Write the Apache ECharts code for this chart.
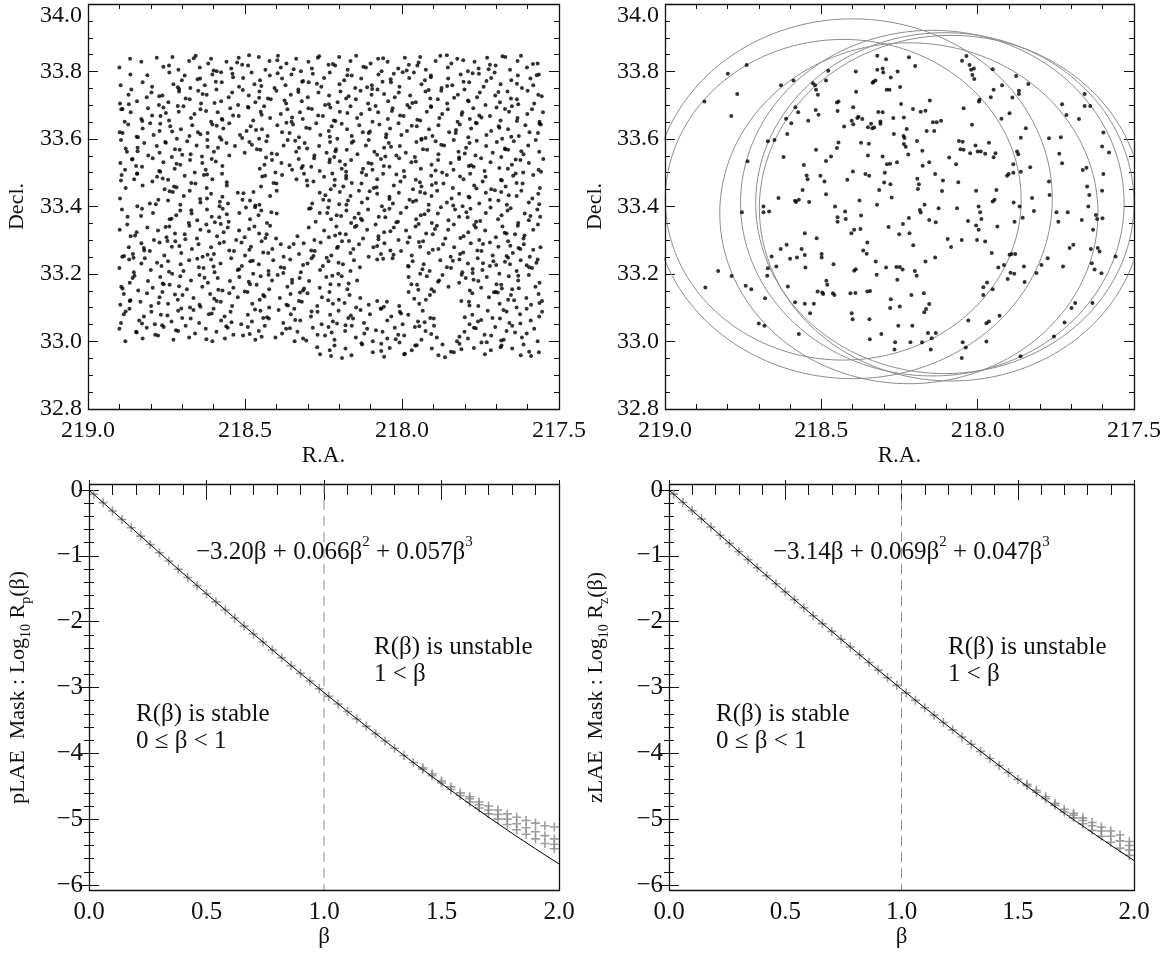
<!DOCTYPE html>
<html><head><meta charset="utf-8">
<script src="https://cdn.jsdelivr.net/npm/echarts@6/dist/echarts.min.js"></script>
<style>html,body{margin:0;padding:0;background:#fff}#c{width:1169px;height:953px}</style>
</head><body><div id="c"></div><script>
// ---- Top-left: full field sources [R.A., Decl.] (read strip by strip, top to bottom) ----
const fieldPtsA = [
[218.900,33.812],[218.866,33.838],[218.830,33.829],[218.781,33.841],[218.742,33.818],[218.731,33.843],[218.712,33.805],[218.678,33.831],[218.657,33.847],[218.644,33.812],[218.617,33.824],[218.608,33.838],[218.590,33.801],[218.559,33.829],[218.544,33.809],[218.520,33.841],[218.509,33.820],[218.490,33.818],[218.456,33.843],[218.435,33.805],[218.422,33.831],[218.395,33.847],[218.386,33.812],[218.368,33.824],[218.337,33.838],[218.322,33.801],[218.298,33.829],[218.287,33.809],[218.268,33.841],[218.234,33.820],[218.213,33.818],[218.200,33.843],[218.173,33.805],[218.164,33.831],[218.146,33.847],[218.115,33.812],[218.100,33.824],[218.076,33.838],[218.065,33.801],[218.046,33.829],[218.012,33.809],[217.991,33.841],[217.978,33.820],[217.951,33.818],[217.942,33.843],[217.924,33.805],[217.893,33.831],[217.878,33.847],[217.854,33.812],[217.843,33.824],[217.824,33.838],[217.790,33.801],[217.769,33.829],[217.756,33.809],[217.729,33.841],[217.720,33.820],[217.702,33.818],[217.671,33.843],[217.656,33.805],[217.632,33.831],[217.621,33.847],[217.602,33.812],[217.568,33.824],
[218.896,33.759],[218.865,33.791],[218.826,33.768],[218.796,33.755],[218.741,33.797],[218.728,33.762],[218.701,33.774],[218.692,33.788],[218.674,33.751],[218.643,33.779],[218.628,33.759],[218.604,33.791],[218.593,33.770],[218.574,33.768],[218.540,33.793],[218.519,33.755],[218.506,33.781],[218.479,33.797],[218.470,33.762],[218.452,33.774],[218.421,33.788],[218.406,33.751],[218.382,33.779],[218.371,33.759],[218.352,33.791],[218.318,33.770],[218.297,33.768],[218.284,33.793],[218.257,33.755],[218.248,33.781],[218.230,33.797],[218.199,33.762],[218.184,33.774],[218.160,33.788],[218.149,33.751],[218.130,33.779],[218.096,33.759],[218.075,33.791],[218.062,33.770],[218.035,33.768],[218.026,33.793],[218.008,33.755],[217.977,33.781],[217.962,33.797],[217.938,33.762],[217.927,33.774],[217.908,33.788],[217.874,33.751],[217.853,33.779],[217.840,33.759],[217.813,33.791],[217.804,33.770],[217.786,33.768],[217.755,33.793],[217.740,33.755],[217.716,33.781],[217.705,33.797],[217.686,33.762],[217.652,33.774],[217.631,33.788],[217.618,33.751],[217.591,33.779],[217.582,33.759],[217.564,33.791],
[218.898,33.705],[218.871,33.731],[218.862,33.747],[218.844,33.712],[218.813,33.724],[218.798,33.738],[218.774,33.701],[218.763,33.729],[218.744,33.709],[218.710,33.741],[218.689,33.720],[218.676,33.718],[218.649,33.743],[218.640,33.705],[218.622,33.731],[218.591,33.747],[218.576,33.712],[218.552,33.724],[218.541,33.738],[218.522,33.701],[218.488,33.729],[218.467,33.709],[218.454,33.741],[218.427,33.720],[218.418,33.718],[218.400,33.743],[218.369,33.705],[218.354,33.731],[218.330,33.747],[218.319,33.712],[218.300,33.724],[218.266,33.738],[218.245,33.701],[218.232,33.729],[218.205,33.709],[218.196,33.741],[218.178,33.720],[218.147,33.718],[218.132,33.743],[218.108,33.705],[218.097,33.731],[218.078,33.747],[218.044,33.712],[218.023,33.724],[218.010,33.738],[217.983,33.701],[217.974,33.729],[217.956,33.709],[217.925,33.741],[217.910,33.720],[217.886,33.718],[217.875,33.743],[217.856,33.705],[217.822,33.731],[217.801,33.747],[217.788,33.712],[217.761,33.724],[217.752,33.738],[217.734,33.701],[217.703,33.729],[217.688,33.709],[217.664,33.741],[217.653,33.720],[217.634,33.718],[217.600,33.743],[217.579,33.705],[217.566,33.731],
[218.894,33.688],[218.883,33.651],[218.864,33.679],[218.830,33.659],[218.809,33.691],[218.796,33.670],[218.769,33.668],[218.760,33.693],[218.742,33.655],[218.711,33.681],[218.696,33.697],[218.672,33.662],[218.661,33.674],[218.642,33.688],[218.608,33.651],[218.587,33.679],[218.574,33.659],[218.547,33.691],[218.538,33.670],[218.520,33.668],[218.489,33.693],[218.474,33.655],[218.450,33.681],[218.439,33.697],[218.420,33.662],[218.386,33.674],[218.365,33.688],[218.352,33.651],[218.325,33.679],[218.316,33.659],[218.298,33.691],[218.267,33.670],[218.252,33.668],[218.228,33.693],[218.217,33.655],[218.198,33.681],[218.164,33.697],[218.143,33.662],[218.130,33.674],[218.103,33.688],[218.094,33.651],[218.076,33.679],[218.045,33.659],[218.030,33.691],[218.006,33.670],[217.995,33.668],[217.976,33.693],[217.942,33.655],[217.921,33.681],[217.908,33.697],[217.881,33.662],[217.872,33.674],[217.854,33.688],[217.823,33.651],[217.808,33.679],[217.784,33.659],[217.773,33.691],[217.754,33.670],[217.720,33.668],[217.699,33.693],[217.686,33.655],[217.659,33.681],[217.650,33.697],[217.632,33.662],[217.601,33.674],[217.586,33.688],[217.562,33.651],[217.551,33.679],
[218.899,33.620],[218.890,33.618],[218.872,33.643],[218.841,33.605],[218.826,33.631],[218.802,33.647],[218.791,33.612],[218.772,33.624],[218.738,33.638],[218.717,33.601],[218.704,33.629],[218.677,33.609],[218.668,33.641],[218.650,33.620],[218.619,33.618],[218.604,33.643],[218.580,33.605],[218.569,33.631],[218.550,33.647],[218.516,33.612],[218.495,33.624],[218.482,33.638],[218.455,33.601],[218.446,33.629],[218.428,33.609],[218.397,33.641],[218.382,33.620],[218.358,33.618],[218.347,33.643],[218.328,33.605],[218.294,33.631],[218.273,33.647],[218.260,33.612],[218.233,33.624],[218.224,33.638],[218.206,33.601],[218.175,33.629],[218.160,33.609],[218.136,33.641],[218.125,33.620],[218.106,33.618],[218.072,33.643],[218.051,33.605],[218.038,33.631],[218.011,33.647],[218.002,33.612],[217.984,33.624],[217.953,33.638],[217.938,33.601],[217.914,33.629],[217.903,33.609],[217.884,33.641],[217.850,33.620],[217.829,33.618],[217.816,33.643],[217.789,33.605],[217.780,33.631],[217.762,33.647],[217.731,33.612],[217.716,33.624],[217.692,33.638],[217.681,33.601],[217.662,33.629],[217.628,33.609],[217.607,33.641],[217.594,33.620],[217.567,33.618],[217.558,33.643],
[218.895,33.597],[218.876,33.562],[218.842,33.574],[218.821,33.588],[218.808,33.551],[218.781,33.579],[218.772,33.559],[218.754,33.591],[218.723,33.570],[218.708,33.568],[218.684,33.593],[218.673,33.555],[218.654,33.581],[218.620,33.597],[218.599,33.562],[218.586,33.574],[218.559,33.588],[218.550,33.551],[218.532,33.579],[218.501,33.559],[218.486,33.591],[218.462,33.570],[218.451,33.568],[218.432,33.593],[218.398,33.555],[218.377,33.581],[218.364,33.597],[218.337,33.562],[218.328,33.574],[218.310,33.588],[218.279,33.551],[218.264,33.579],[218.240,33.559],[218.229,33.591],[218.210,33.570],[218.176,33.568],[218.155,33.593],[218.142,33.555],[218.115,33.581],[218.106,33.597],[218.088,33.562],[218.057,33.574],[218.042,33.588],[218.018,33.551],[218.007,33.579],[217.988,33.559],[217.954,33.591],[217.933,33.570],[217.920,33.568],[217.893,33.593],[217.884,33.555],[217.866,33.581],[217.835,33.597],[217.820,33.562],[217.796,33.574],[217.785,33.588],[217.766,33.551],[217.732,33.579],[217.711,33.559],[217.698,33.591],[217.671,33.570],[217.662,33.568],[217.644,33.593],[217.613,33.555],[217.598,33.581],[217.574,33.597],[217.563,33.562],
[218.897,33.529],[218.882,33.509],[218.858,33.541],[218.847,33.520],[218.828,33.518],[218.794,33.543],[218.773,33.505],[218.760,33.531],[218.733,33.547],[218.724,33.512],[218.706,33.524],[218.675,33.538],[218.660,33.501],[218.636,33.529],[218.625,33.509],[218.606,33.541],[218.572,33.520],[218.453,33.512],[218.438,33.524],[218.414,33.538],[218.403,33.501],[218.384,33.529],[218.350,33.509],[218.329,33.541],[218.316,33.520],[218.289,33.518],[218.280,33.543],[218.262,33.505],[218.231,33.531],[218.216,33.547],[218.192,33.512],[218.181,33.524],[218.162,33.538],[218.128,33.501],[218.107,33.529],[218.094,33.509],[218.067,33.541],[218.058,33.520],[218.040,33.518],[218.009,33.543],[217.994,33.505],[217.970,33.531],[217.959,33.547],[217.940,33.512],[217.906,33.524],[217.885,33.538],[217.872,33.501],[217.845,33.529],[217.836,33.509],[217.818,33.541],[217.787,33.520],[217.772,33.518],[217.748,33.543],[217.737,33.505],[217.718,33.531],[217.684,33.547],[217.663,33.512],[217.650,33.524],[217.623,33.538],[217.614,33.501],[217.596,33.529],[217.565,33.509],[217.550,33.541],
[218.893,33.493],[218.880,33.455],[218.853,33.481],[218.844,33.497],[218.826,33.462],[218.795,33.474],[218.780,33.488],[218.756,33.451],[218.745,33.479],[218.726,33.459],[218.692,33.491],[218.671,33.470],[218.658,33.468],[218.631,33.493],[218.622,33.455],[218.604,33.481],[218.573,33.497],[218.558,33.462],[218.449,33.459],[218.436,33.491],[218.409,33.470],[218.400,33.468],[218.382,33.493],[218.336,33.481],[218.312,33.497],[218.301,33.462],[218.282,33.474],[218.248,33.488],[218.227,33.451],[218.214,33.479],[218.187,33.459],[218.178,33.491],[218.160,33.470],[218.129,33.468],[218.114,33.493],[218.090,33.455],[218.079,33.481],[218.060,33.497],[218.026,33.462],[218.005,33.474],[217.992,33.488],[217.965,33.451],[217.956,33.479],[217.938,33.459],[217.907,33.491],[217.892,33.470],[217.868,33.468],[217.857,33.493],[217.838,33.455],[217.804,33.481],[217.783,33.497],[217.770,33.462],[217.743,33.474],[217.734,33.488],[217.716,33.451],[217.685,33.479],[217.670,33.459],[217.646,33.491],[217.635,33.470],[217.616,33.468],[217.582,33.493],[217.561,33.455],
[218.898,33.424],[218.843,33.401],[218.803,33.409],[218.776,33.420],[218.745,33.418],[218.730,33.443],[218.706,33.405],[218.695,33.431],[218.676,33.447],[218.642,33.412],[218.621,33.424],[218.608,33.438],[218.581,33.401],[218.572,33.429],[218.554,33.409],[218.523,33.441],[218.508,33.420],[218.484,33.418],[218.473,33.443],[218.454,33.405],[218.420,33.431],[218.399,33.447],[218.286,33.409],[218.262,33.441],[218.251,33.420],[218.232,33.418],[218.198,33.443],[218.177,33.405],[218.164,33.431],[218.137,33.447],[218.128,33.412],[218.110,33.424],[218.079,33.438],[218.064,33.401],[218.040,33.429],[218.029,33.409],[218.010,33.441],[217.976,33.420],[217.955,33.418],[217.942,33.443],[217.915,33.405],[217.906,33.431],[217.888,33.447],[217.857,33.412],[217.842,33.424],[217.818,33.438],[217.807,33.401],[217.788,33.429],[217.754,33.409],[217.733,33.441],[217.720,33.420],[217.693,33.418],[217.684,33.443],[217.666,33.405],[217.635,33.431],[217.620,33.447],[217.596,33.412],[217.585,33.424],[217.566,33.438],
[218.892,33.391],[218.874,33.370],[218.828,33.393],[218.793,33.381],[218.740,33.362],[218.719,33.374],[218.706,33.388],[218.679,33.351],[218.670,33.379],[218.652,33.359],[218.621,33.391],[218.606,33.370],[218.582,33.368],[218.571,33.393],[218.552,33.355],[218.518,33.381],[218.497,33.397],[218.484,33.362],[218.457,33.374],[218.448,33.388],[218.430,33.351],[218.399,33.379],[218.296,33.393],[218.275,33.355],[218.262,33.381],[218.235,33.397],[218.226,33.362],[218.208,33.374],[218.177,33.388],[218.162,33.351],[218.138,33.379],[218.127,33.359],[218.108,33.391],[218.074,33.370],[218.053,33.368],[218.040,33.393],[218.013,33.355],[218.004,33.381],[217.986,33.397],[217.955,33.362],[217.940,33.374],[217.916,33.388],[217.905,33.351],[217.886,33.379],[217.852,33.359],[217.831,33.391],[217.818,33.370],[217.791,33.368],[217.782,33.393],[217.764,33.355],[217.733,33.381],[217.718,33.397],[217.694,33.362],[217.683,33.374],[217.664,33.388],[217.630,33.351],[217.609,33.379],[217.596,33.359],[217.569,33.391],[217.560,33.370],
[218.899,33.331],[218.875,33.347],[218.864,33.312],[218.845,33.324],[218.811,33.338],[218.790,33.301],[218.777,33.329],[218.750,33.309],[218.741,33.341],[218.723,33.320],[218.692,33.318],[218.677,33.343],[218.653,33.305],[218.642,33.331],[218.623,33.347],[218.589,33.312],[218.568,33.324],[218.555,33.338],[218.528,33.301],[218.519,33.329],[218.501,33.309],[218.470,33.341],[218.455,33.320],[218.431,33.318],[218.420,33.343],[218.401,33.305],[218.333,33.312],[218.297,33.338],[218.279,33.301],[218.248,33.329],[218.233,33.309],[218.209,33.341],[218.198,33.320],[218.179,33.318],[218.145,33.343],[218.124,33.305],[218.111,33.331],[218.084,33.347],[218.075,33.312],[218.057,33.324],[218.026,33.338],[218.011,33.301],[217.987,33.329],[217.976,33.309],[217.957,33.341],[217.923,33.320],[217.902,33.318],[217.889,33.343],[217.862,33.305],[217.853,33.331],[217.835,33.347],[217.804,33.312],[217.789,33.324],[217.765,33.338],[217.754,33.301],[217.735,33.329],[217.701,33.309],[217.680,33.341],[217.667,33.320],[217.640,33.318],[217.631,33.343],[217.613,33.305],[217.582,33.331],[217.567,33.347],
[218.891,33.251],[218.870,33.279],[218.857,33.259],[218.830,33.291],[218.821,33.270],[218.803,33.268],[218.772,33.293],[218.757,33.255],[218.733,33.281],[218.722,33.297],[218.703,33.262],[218.669,33.274],[218.648,33.288],[218.635,33.251],[218.608,33.279],[218.599,33.259],[218.581,33.291],[218.550,33.270],[218.535,33.268],[218.511,33.293],[218.500,33.255],[218.481,33.281],[218.447,33.297],[218.426,33.262],[218.413,33.274],[218.386,33.288],[218.377,33.251],[218.359,33.279],[218.328,33.259],[218.313,33.291],[218.289,33.270],[218.278,33.268],[218.259,33.293],[218.225,33.255],[218.204,33.281],[218.191,33.297],[218.164,33.262],[218.155,33.274],[218.137,33.288],[218.106,33.251],[218.091,33.279],[218.067,33.259],[218.056,33.291],[218.037,33.270],[218.003,33.268],[217.982,33.293],[217.969,33.255],[217.942,33.281],[217.933,33.297],[217.915,33.262],[217.884,33.274],[217.869,33.288],[217.845,33.251],[217.834,33.279],[217.815,33.259],[217.781,33.291],[217.760,33.270],[217.747,33.268],[217.720,33.293],[217.711,33.255],[217.693,33.281],[217.662,33.297],[217.647,33.262],[217.623,33.274],[217.612,33.288],[217.593,33.251],[217.559,33.279],
[218.900,33.218],[218.869,33.243],[218.854,33.205],[218.830,33.231],[218.819,33.247],[218.800,33.212],[218.766,33.224],[218.745,33.238],[218.732,33.201],[218.705,33.229],[218.696,33.209],[218.678,33.241],[218.647,33.220],[218.632,33.218],[218.608,33.243],[218.597,33.205],[218.578,33.231],[218.544,33.247],[218.523,33.212],[218.510,33.224],[218.483,33.238],[218.474,33.201],[218.456,33.229],[218.425,33.209],[218.410,33.241],[218.386,33.220],[218.375,33.218],[218.356,33.243],[218.322,33.205],[218.301,33.231],[218.288,33.247],[218.261,33.212],[218.252,33.224],[218.234,33.238],[218.203,33.201],[218.188,33.229],[218.164,33.209],[218.153,33.241],[218.134,33.220],[218.079,33.243],[218.030,33.247],[217.981,33.224],[217.966,33.238],[217.942,33.201],[217.931,33.229],[217.912,33.209],[217.878,33.241],[217.857,33.220],[217.844,33.218],[217.817,33.243],[217.808,33.205],[217.790,33.231],[217.759,33.247],[217.744,33.212],[217.720,33.224],[217.709,33.238],[217.690,33.201],[217.656,33.229],[217.635,33.209],[217.622,33.241],[217.595,33.220],[217.586,33.218],[217.568,33.243],
[218.894,33.162],[218.867,33.174],[218.858,33.188],[218.840,33.151],[218.809,33.179],[218.794,33.159],[218.770,33.191],[218.759,33.170],[218.740,33.168],[218.706,33.193],[218.685,33.155],[218.672,33.181],[218.645,33.197],[218.636,33.162],[218.618,33.174],[218.587,33.188],[218.572,33.151],[218.548,33.179],[218.537,33.159],[218.518,33.191],[218.484,33.170],[218.463,33.168],[218.450,33.193],[218.423,33.155],[218.414,33.181],[218.396,33.197],[218.365,33.162],[218.350,33.174],[218.326,33.188],[218.315,33.151],[218.296,33.179],[218.262,33.159],[218.241,33.191],[218.228,33.170],[218.201,33.168],[218.192,33.193],[218.174,33.155],[218.143,33.181],[217.979,33.191],[217.970,33.170],[217.952,33.168],[217.921,33.193],[217.906,33.155],[217.882,33.181],[217.871,33.197],[217.852,33.162],[217.818,33.174],[217.797,33.188],[217.784,33.151],[217.757,33.179],[217.748,33.159],[217.730,33.191],[217.699,33.170],[217.684,33.168],[217.660,33.193],[217.649,33.155],[217.630,33.181],[217.596,33.197],[217.575,33.162],[217.562,33.174],
[218.897,33.109],[218.886,33.141],[218.867,33.120],[218.833,33.118],[218.812,33.143],[218.799,33.105],[218.772,33.131],[218.763,33.147],[218.745,33.112],[218.714,33.124],[218.699,33.138],[218.675,33.101],[218.664,33.129],[218.645,33.109],[218.611,33.141],[218.590,33.120],[218.577,33.118],[218.550,33.143],[218.541,33.105],[218.523,33.131],[218.492,33.147],[218.477,33.112],[218.453,33.124],[218.442,33.138],[218.423,33.101],[218.389,33.129],[218.368,33.109],[218.355,33.141],[218.328,33.120],[218.319,33.118],[218.301,33.143],[218.270,33.105],[218.255,33.131],[218.231,33.147],[218.220,33.112],[218.201,33.124],[218.167,33.138],[218.146,33.101],[218.133,33.129],[218.106,33.109],[218.079,33.120],[218.048,33.118],[218.009,33.105],[217.979,33.147],[217.945,33.112],[217.924,33.124],[217.911,33.138],[217.811,33.120],[217.787,33.118],[217.776,33.143],[217.757,33.105],[217.723,33.131],[217.702,33.147],[217.689,33.112],[217.662,33.124],[217.653,33.138],[217.635,33.101],[217.604,33.129],[217.589,33.109],[217.565,33.141],[217.554,33.120],
[218.895,33.055],[218.886,33.081],[218.868,33.097],[218.837,33.062],[218.822,33.074],[218.798,33.088],[218.787,33.051],[218.768,33.079],[218.734,33.059],[218.713,33.091],[218.700,33.070],[218.673,33.068],[218.664,33.093],[218.646,33.055],[218.615,33.081],[218.600,33.097],[218.576,33.062],[218.565,33.074],[218.546,33.088],[218.512,33.051],[218.491,33.079],[218.478,33.059],[218.451,33.091],[218.442,33.070],[218.424,33.068],[218.393,33.093],[218.378,33.055],[218.354,33.081],[218.343,33.097],[218.324,33.062],[218.290,33.074],[218.269,33.088],[218.256,33.051],[218.229,33.079],[218.220,33.059],[218.202,33.091],[218.171,33.070],[218.156,33.068],[218.132,33.093],[218.121,33.055],[218.102,33.081],[218.068,33.097],[218.047,33.062],[218.034,33.074],[218.007,33.088],[217.998,33.051],[217.980,33.079],[217.949,33.059],[217.934,33.091],[217.910,33.070],[217.899,33.068],[217.785,33.051],[217.776,33.079],[217.758,33.059],[217.727,33.091],[217.712,33.070],[217.688,33.068],[217.677,33.093],[217.658,33.055],[217.624,33.081],[217.603,33.097],[217.590,33.062],[217.563,33.074],[217.554,33.088],
[218.900,33.038],[218.881,33.001],[218.847,33.029],[218.826,33.009],[218.813,33.041],[218.786,33.020],[218.777,33.018],[218.759,33.043],[218.728,33.005],[218.713,33.031],[218.689,33.047],[218.678,33.012],[218.659,33.024],[218.625,33.038],[218.604,33.001],[218.591,33.029],[218.564,33.009],[218.555,33.041],[218.537,33.020],[218.506,33.018],[218.491,33.043],[218.467,33.005],[218.456,33.031],[218.437,33.047],[218.403,33.012],[218.382,33.024],[218.369,33.038],[218.342,33.001],[218.333,33.029],[218.315,33.009],[218.284,33.041],[218.269,33.020],[218.245,33.018],[218.234,33.043],[218.215,33.005],[218.181,33.031],[218.160,33.047],[218.147,33.012],[218.120,33.024],[218.111,33.038],[218.093,33.001],[218.062,33.029],[218.047,33.009],[218.023,33.041],[218.012,33.020],[217.993,33.018],[217.959,33.043],[217.938,33.005],[217.925,33.031],[217.898,33.047],[217.889,33.012],[217.825,33.001],[217.801,33.029],[217.790,33.009],[217.771,33.041],[217.737,33.020],[217.716,33.018],[217.703,33.043],[217.676,33.005],[217.667,33.031],[217.649,33.047],[217.618,33.012],[217.603,33.024],[217.579,33.038],[217.568,33.001],
[218.261,32.962],[218.230,32.974],[218.215,32.988],[218.191,32.951],[218.180,32.979],[218.161,32.959],[218.127,32.991],[218.093,32.968],[218.066,32.993],[218.057,32.955],[218.039,32.981],[218.008,32.997],[217.993,32.962],[217.969,32.974],[217.958,32.988],[217.905,32.979],[217.884,32.959],[217.871,32.991],[217.844,32.970],[217.835,32.968],[217.817,32.993],[217.771,32.981],[217.747,32.997],[217.736,32.962],[217.717,32.974],[217.683,32.988],[217.649,32.979],[217.622,32.959],[217.613,32.991],[217.595,32.970],[217.564,32.968],
[217.775,33.215],[217.672,33.236],[217.603,33.226],[217.742,33.232],[217.628,33.158],[217.707,33.146],[217.582,33.272],[217.655,33.284],[218.215,33.462],[218.172,33.418],[218.124,33.512],[218.238,33.381],[218.151,33.367],[218.198,33.534]
];
const fieldPtsB = [
[218.760,33.814],[218.663,33.839],[218.600,33.803],[218.525,33.827],[218.487,33.848],[218.397,33.833],[218.345,33.807],[218.264,33.845],[218.220,33.822],[218.123,33.814],[218.060,33.839],[217.985,33.803],[217.947,33.827],[217.857,33.848],[217.805,33.833],[217.724,33.807],[217.680,33.845],[217.583,33.822],
[218.811,33.789],[218.714,33.753],[218.651,33.777],[218.576,33.798],[218.538,33.783],[218.448,33.757],[218.396,33.795],[218.315,33.772],[218.271,33.764],[218.174,33.789],[218.111,33.753],[218.036,33.777],[217.998,33.798],[217.908,33.783],[217.856,33.757],[217.775,33.795],[217.731,33.772],[217.634,33.764],[217.571,33.789],
[218.870,33.703],[218.773,33.727],[218.710,33.748],[218.635,33.733],[218.597,33.707],[218.507,33.745],[218.455,33.722],[218.374,33.714],[218.330,33.739],[218.233,33.703],[218.170,33.727],[218.095,33.748],[218.057,33.733],[217.967,33.707],[217.915,33.745],[217.834,33.722],[217.790,33.714],[217.693,33.739],[217.630,33.703],[217.555,33.727],
[218.890,33.689],[218.827,33.653],[218.752,33.677],[218.714,33.698],[218.624,33.683],[218.572,33.657],[218.491,33.695],[218.447,33.672],[218.350,33.664],[218.287,33.689],[218.212,33.653],[218.174,33.677],[218.084,33.698],[218.032,33.683],[217.951,33.657],[217.907,33.695],[217.810,33.672],[217.747,33.664],[217.672,33.689],[217.634,33.653],
[218.845,33.607],[218.770,33.645],[218.732,33.622],[218.642,33.614],[218.590,33.639],[218.509,33.603],[218.465,33.627],[218.368,33.648],[218.305,33.633],[218.230,33.607],[218.192,33.645],[218.102,33.622],[218.050,33.614],[217.969,33.639],[217.925,33.603],[217.828,33.627],[217.765,33.648],[217.690,33.633],[217.652,33.607],[217.562,33.645],
[218.880,33.572],[218.842,33.564],[218.752,33.589],[218.700,33.553],[218.619,33.577],[218.575,33.598],[218.478,33.583],[218.415,33.557],[218.340,33.595],[218.302,33.572],[218.212,33.564],[218.160,33.589],[218.079,33.553],[218.035,33.577],[217.938,33.598],[217.875,33.583],[217.800,33.557],[217.762,33.595],[217.672,33.572],[217.620,33.564],
[218.860,33.539],[218.770,33.503],[218.718,33.527],[218.637,33.548],[218.593,33.533],[218.433,33.545],[218.358,33.522],[218.320,33.514],[218.230,33.539],[218.178,33.503],[218.097,33.527],[218.053,33.548],[217.956,33.533],[217.893,33.507],[217.818,33.545],[217.780,33.522],[217.690,33.514],[217.638,33.539],[217.557,33.503],
[218.895,33.477],[218.843,33.498],[218.762,33.483],[218.718,33.457],[218.621,33.495],[218.558,33.472],[218.445,33.489],[218.303,33.477],[218.222,33.498],[218.178,33.483],[218.081,33.457],[218.018,33.495],[217.943,33.472],[217.905,33.464],[217.815,33.489],[217.763,33.453],[217.682,33.477],[217.638,33.498],
[218.784,33.407],[218.740,33.445],[218.643,33.422],[218.580,33.414],[218.505,33.439],[218.467,33.403],[218.244,33.433],[218.200,33.407],[218.103,33.445],[218.040,33.422],[217.965,33.414],[217.927,33.439],[217.837,33.403],[217.785,33.427],[217.704,33.448],[217.660,33.433],[217.563,33.407],
[218.831,33.372],[218.734,33.364],[218.671,33.389],[218.596,33.353],[218.558,33.377],[218.468,33.398],[218.416,33.383],[218.291,33.395],[218.194,33.372],[218.131,33.364],[218.056,33.389],[218.018,33.353],[217.928,33.377],[217.876,33.398],[217.795,33.383],[217.751,33.357],[217.654,33.395],[217.591,33.372],
[218.850,33.314],[218.753,33.339],[218.690,33.303],[218.615,33.327],[218.577,33.348],[218.487,33.333],[218.435,33.307],[218.213,33.314],[218.150,33.339],[218.075,33.303],[218.037,33.327],[217.947,33.348],[217.895,33.333],[217.814,33.307],[217.770,33.345],[217.673,33.322],[217.610,33.314],
[218.885,33.253],[218.822,33.277],[218.747,33.298],[218.709,33.283],[218.619,33.257],[218.567,33.295],[218.486,33.272],[218.442,33.264],[218.345,33.289],[218.282,33.253],[218.207,33.277],[218.169,33.298],[218.079,33.283],[218.027,33.257],[217.946,33.295],[217.902,33.272],[217.805,33.264],[217.742,33.289],[217.667,33.253],[217.629,33.277],
[218.855,33.248],[218.780,33.233],[218.742,33.207],[218.652,33.245],[218.600,33.222],[218.519,33.214],[218.475,33.239],[218.378,33.203],[218.315,33.227],[218.240,33.248],[218.202,33.233],[218.060,33.245],[217.979,33.222],[217.935,33.214],[217.838,33.239],[217.775,33.203],[217.700,33.227],[217.662,33.248],[217.572,33.233],
[218.890,33.157],[218.852,33.195],[218.762,33.172],[218.710,33.164],[218.629,33.189],[218.585,33.153],[218.488,33.177],[218.425,33.198],[218.350,33.183],[218.312,33.157],[218.222,33.195],[218.170,33.172],[217.948,33.153],[217.885,33.177],[217.810,33.198],[217.772,33.183],[217.682,33.157],[217.630,33.195],
[218.865,33.122],[218.775,33.114],[218.723,33.139],[218.642,33.103],[218.598,33.127],[218.501,33.148],[218.438,33.133],[218.363,33.107],[218.325,33.145],[218.235,33.122],[218.183,33.114],[218.058,33.103],[217.961,33.127],[217.898,33.148],[217.785,33.107],[217.695,33.145],[217.643,33.122],[217.562,33.114],
[218.880,33.089],[218.828,33.053],[218.747,33.077],[218.703,33.098],[218.606,33.083],[218.543,33.057],[218.468,33.095],[218.430,33.072],[218.340,33.064],[218.288,33.089],[218.207,33.053],[218.163,33.077],[218.066,33.098],[218.003,33.083],[217.928,33.057],[217.800,33.072],[217.748,33.064],[217.667,33.089],[217.623,33.053],
[218.845,33.027],[218.764,33.048],[218.720,33.033],[218.623,33.007],[218.560,33.045],[218.485,33.022],[218.447,33.014],[218.357,33.039],[218.305,33.003],[218.224,33.027],[218.180,33.048],[218.083,33.033],[218.020,33.007],[217.945,33.045],[217.907,33.022],[217.817,33.014],[217.765,33.039],[217.684,33.003],[217.640,33.027],
[218.270,32.983],[218.226,32.957],[218.129,32.995],[218.066,32.972],[217.991,32.964],[217.953,32.989],[217.863,32.953],[217.811,32.977],[217.730,32.998],[217.686,32.983],[217.589,32.957]
];
// ---- Top-right: masked sources ----
const maskPts = [
[218.874,33.711],[218.871,33.160],[218.799,33.793],[218.788,33.668],[218.769,33.733],[218.754,33.383],[218.739,33.819],[218.736,33.534],[218.830,33.209],[218.787,33.194],[218.742,33.165],[218.724,33.155],[218.700,33.053],[218.682,33.047],[218.685,33.400],[218.685,33.383],[218.680,33.128],[218.671,33.593],[218.667,33.385],[218.671,33.217],[218.673,33.195],[218.659,33.252],[218.650,33.597],[218.644,33.222],[218.637,33.425],[218.629,33.759],[218.621,33.547],[218.630,33.274],[218.611,33.287],[218.613,33.660],[218.609,33.615],[218.607,33.163],[218.600,33.245],[218.596,33.647],[218.589,33.773],[218.584,33.417],[218.581,33.413],[218.584,33.116],[218.583,33.694],[218.578,33.249],[218.572,33.022],[218.574,33.679],[218.572,33.420],[218.560,33.449],[218.563,33.274],[218.556,33.523],[218.553,33.112],[218.553,33.321],[218.551,33.219],[218.553,33.256],[218.547,33.492],[218.544,33.481],[218.542,33.654],[218.539,33.413],[218.536,33.084],[218.527,33.765],[218.524,33.112],[218.520,33.759],[218.517,33.746],[218.517,33.568],[218.518,33.686],[218.515,33.306],[218.512,33.148],[218.511,33.731],[218.509,33.672],[218.503,33.491],[218.499,33.259],[218.499,33.249],[218.497,33.145],[218.494,33.141],[218.490,33.474],[218.485,33.535],[218.485,33.436],[218.484,33.180],[218.481,33.168],[218.478,33.802],[218.485,33.773],[218.469,33.548],[218.463,33.143],[218.461,33.229],[218.458,33.138],[218.456,33.400],[218.450,33.573],[218.450,33.708],[218.448,33.368],[218.448,33.683],[218.448,33.355],[218.445,33.590],[218.445,33.711],[218.427,33.637],[218.424,33.385],[218.422,33.363],[218.417,33.479],[218.407,33.143],[218.403,33.084],[218.404,33.321],[218.403,33.654],[218.400,33.066],[218.399,33.504],[218.398,33.694],[218.398,33.644],[218.395,33.331],[218.395,33.210],[218.391,33.144],[218.390,33.214],[218.390,33.800],[218.389,33.740],[218.385,33.662],[218.381,33.666],[218.378,33.418],[218.375,33.333],[218.373,33.589],[218.373,33.373],[218.369,33.659],[218.366,33.270],[218.359,33.496],[218.355,33.260],[218.353,33.293],[218.353,33.148],[218.351,33.635],[218.351,33.551],[218.348,33.586],[218.347,33.491],[218.346,33.066],[218.345,33.007],[218.344,33.150],[218.341,33.645],[218.337,33.632],[218.336,33.767],[218.331,33.634],[218.333,33.770],[218.327,33.773],[218.326,33.237],[218.323,33.198],[218.322,33.405],[218.321,33.847],[218.321,33.805],[218.318,33.680],[218.315,33.449],[218.311,33.645],[218.311,33.652],[218.308,33.022],[218.304,33.679],[218.304,33.548],[218.304,33.809],[218.302,33.797],[218.299,33.471],[218.297,33.500],[218.293,33.836],[218.293,33.219],[218.291,33.746],[218.290,33.525],[218.285,33.339],[218.282,33.746],[218.280,33.527],[218.280,33.099],[218.279,33.466],[218.278,33.125],[218.278,33.782],[218.275,33.427],[218.270,33.662],[218.268,33.615],[218.266,32.976],[218.264,32.998],[218.260,33.221],[218.258,33.531],[218.257,33.183],[218.256,33.800],[218.254,33.047],[218.251,33.318],[218.249,33.221],[218.249,33.104],[218.248,33.754],[218.245,33.704],[218.240,33.213],[218.239,33.348],[218.237,33.609],[218.236,33.664],[218.236,33.585],[218.234,33.603],[218.230,33.577],[218.227,33.630],[218.222,33.554],[218.220,33.842],[218.220,33.366],[218.218,33.321],[218.215,32.998],[218.212,33.138],[218.209,33.047],[218.206,33.285],[218.207,33.689],[218.201,33.209],[218.200,33.816],[218.195,33.195],[218.194,33.594],[218.193,33.482],[218.191,33.452],[218.188,33.466],[218.185,33.390],[218.182,33.681],[218.182,33.382],[218.178,32.998],[218.177,33.565],[218.176,33.521],[218.172,33.143],[218.171,33.087],[218.170,33.405],[218.167,33.684],[218.167,33.237],[218.165,33.096],[218.163,33.624],[218.159,33.025],[218.155,33.531],[218.155,33.360],[218.155,33.111],[218.153,33.714],[218.150,32.976],[218.147,33.010],[218.143,33.650],[218.139,33.624],[218.136,33.249],[218.136,33.496],[218.134,33.353],[218.134,33.025],[218.131,33.650],[218.125,33.395],[218.117,33.654],[218.114,33.446],[218.111,33.477],[218.096,33.304],[218.091,33.545],[218.085,33.280],[218.069,33.525],[218.066,33.395],[218.062,33.472],[218.060,33.594],[218.055,33.570],[218.051,33.301],[218.050,33.832],[218.045,33.691],[218.045,33.568],[218.048,32.998],[218.051,32.951],[218.048,33.592],[218.038,32.982],[218.036,33.846],[218.031,33.357],[218.030,33.062],[218.026,33.819],[218.024,33.558],[218.021,33.805],[218.018,33.642],[218.017,33.790],[218.012,33.809],[218.011,33.778],[218.007,33.581],[218.005,33.447],[218.002,33.301],[218.005,33.344],[218.000,33.563],[217.997,33.331],[217.997,33.400],[217.996,33.711],[217.994,33.716],[217.992,33.383],[217.990,33.563],[217.988,33.363],[217.982,33.161],[217.982,33.138],[217.976,33.556],[217.976,33.296],[217.972,33.054],[217.972,33.000],[217.970,33.175],[217.964,33.059],[217.964,33.589],[217.958,33.724],[217.955,33.262],[217.952,33.415],[217.952,33.807],[217.949,33.546],[217.949,33.746],[217.952,33.155],[217.946,33.420],[217.943,33.558],[217.940,33.449],[217.937,33.341],[217.934,33.219],[217.930,33.076],[217.924,33.660],[217.922,33.759],[217.916,33.227],[217.906,33.491],[217.904,33.185],[217.901,33.496],[217.898,33.676],[217.898,33.257],[217.895,33.204],[217.892,33.259],[217.889,33.723],[217.886,33.525],[217.886,33.500],[217.885,33.412],[217.882,33.355],[217.883,33.201],[217.880,33.259],[217.877,33.787],[217.874,33.563],[217.870,33.555],[217.868,33.743],[217.868,33.733],[217.866,33.400],[217.863,32.956],[217.862,33.503],[217.862,33.604],[217.856,33.367],[217.852,33.222],[217.846,33.632],[217.850,33.176],[217.838,33.763],[217.832,33.516],[217.826,33.425],[217.820,33.387],[217.812,33.203],[217.796,33.227],[217.776,33.247],[217.772,33.474],[217.770,33.434],[217.772,33.602],[217.756,33.015],[217.748,33.383],[217.742,33.355],[217.739,33.556],[217.734,33.605],[217.730,33.528],[217.730,33.703],[217.727,33.222],[217.722,33.056],[217.716,33.671],[217.712,33.383],[217.706,33.277],[217.700,33.099],[217.694,33.287],[217.688,33.114],[217.676,33.659],[217.667,33.360],[217.664,33.508],[217.658,33.698],[217.658,33.733],[217.652,33.515],[217.650,33.459],[217.646,33.400],[217.643,33.434],[217.640,33.698],[217.638,33.274],[217.635,33.232],[217.633,33.114],[217.631,33.331],[217.626,33.213],[217.622,33.375],[217.618,33.363],[217.616,33.277],[217.610,33.267],[217.604,33.202],[217.602,33.447],[217.602,33.578],[217.598,33.619],[217.598,33.496],[217.601,33.365],[217.580,33.560],[217.559,33.252]
];
// Mask circles: [centre R.A., centre Decl., radius in Decl. degrees]
const maskCircles = [
[218.400,33.423,0.533],[218.430,33.420,0.475],[218.220,33.380,0.505],
[218.145,33.410,0.512],[218.105,33.410,0.505],[218.085,33.395,0.512]
];
// ---- Bottom panels ----
const betaFit = [0,0.1,0.2,0.3,0.4,0.5,0.6,0.7,0.8,0.9,1.0,1.1,1.2,1.3,1.4,1.5,1.6,1.7,1.8,1.9,2.0];
const fitP = [0,-0.319,-0.637,-0.953,-1.266,-1.576,-1.884,-2.188,-2.489,-2.785,-3.077,-3.364,-3.647,-3.923,-4.194,-4.459,-4.718,-4.969,-5.214,-5.451,-5.680];
const fitZ = [0,-0.313,-0.625,-0.935,-1.242,-1.547,-1.849,-2.148,-2.444,-2.736,-3.024,-3.308,-3.587,-3.862,-4.132,-4.396,-4.655,-4.908,-5.154,-5.395,-5.628];
const betaCross = [0.02,0.06,0.10,0.14,0.18,0.22,0.26,0.30,0.34,0.38,0.42,0.46,0.50,0.54,0.58,0.62,0.66,0.70,0.74,0.78,0.82,0.86,0.90,0.94,0.98,1.02,1.06,1.10,1.14,1.18,1.22,1.26,1.30,1.34,1.38,1.42,1.46,1.50,1.54,1.58,1.62,1.66,1.70,1.74,1.78,1.82,1.86,1.90,1.94,1.98];
const crossP = [-0.064,-0.192,-0.319,-0.447,-0.574,-0.700,-0.827,-0.953,-1.078,-1.203,-1.328,-1.453,-1.576,-1.700,-1.823,-1.945,-2.067,-2.188,-2.309,-2.429,-2.548,-2.667,-2.785,-2.902,-3.019,-3.135,-3.250,-3.364,-3.478,-3.590,-3.702,-3.813,-3.923,-4.032,-4.140,-4.240,-4.340,-4.450,-4.550,-4.640,-4.740,-4.830,-4.920,-5.000,-5.080,-5.160,-5.230,-5.300,-5.370,-5.450];
const crossZ = [-0.063,-0.188,-0.313,-0.438,-0.563,-0.687,-0.811,-0.935,-1.058,-1.181,-1.303,-1.425,-1.547,-1.668,-1.789,-1.909,-2.029,-2.148,-2.267,-2.385,-2.503,-2.620,-2.736,-2.852,-2.967,-3.081,-3.195,-3.308,-3.420,-3.532,-3.643,-3.753,-3.862,-3.971,-4.078,-4.185,-4.291,-4.396,-4.490,-4.590,-4.690,-4.790,-4.890,-4.980,-5.070,-5.170,-5.260,-5.350,-5.440,-5.550];
const extraP = [[1.42,-4.22],[1.46,-4.31],[1.50,-4.42],[1.54,-4.51],[1.58,-4.60],[1.62,-4.69],[1.62,-4.66],[1.66,-4.78],[1.66,-4.74],[1.70,-4.86],[1.70,-4.80],[1.74,-4.93],[1.74,-4.86],[1.78,-5.00],[1.78,-4.92],[1.82,-5.07],[1.82,-4.97],[1.86,-5.13],[1.86,-5.02],[1.90,-5.19],[1.90,-5.06],[1.94,-5.25],[1.94,-5.10],[1.98,-5.38],[1.98,-5.30],[1.98,-5.12]];
const extraZ = [[1.54,-4.47],[1.58,-4.56],[1.62,-4.66],[1.66,-4.76],[1.70,-4.85],[1.74,-4.94],[1.74,-4.91],[1.78,-5.02],[1.78,-4.98],[1.82,-5.10],[1.82,-5.05],[1.86,-5.18],[1.86,-5.12],[1.90,-5.26],[1.90,-5.18],[1.94,-5.33],[1.94,-5.24],[1.98,-5.47],[1.98,-5.40],[1.98,-5.34]];
const betaSplit = 1.0;

const FONT = 'Liberation Serif';
const INK = '#111';
const chart = echarts.init(document.getElementById('c'), null, {renderer:'canvas'});

function circlePath(c){
  const [ra, dec, r] = c;
  const rr = r / Math.cos(dec * Math.PI / 180);
  const pts = [];
  for (let i = 0; i <= 240; i++) {
    const t = i / 240 * 2 * Math.PI;
    pts.push([ra + rr * Math.cos(t), dec + r * Math.sin(t)]);
  }
  return pts;
}
const zip = (a, b) => a.map((v, i) => [v, b[i]]);
const minus = v => (v < 0 ? '\u2212' + Math.abs(v) : String(v));

const tick = {inside:true, length:10, lineStyle:{color:INK, width:1}};
function minor(n){ return {show:true, splitNumber:n, length:5, lineStyle:{color:INK, width:1}}; }
const lbl = (fmt, margin, size) => ({show:true, fontFamily:FONT, fontSize:size, color:INK, margin, formatter:fmt});

function xAx(grid, pos, cfg, showLabel, name, offset){
  return Object.assign({type:'value', gridIndex:grid, position:pos, offset:offset||0,
    axisLine:{show:false}, axisTick:tick, minorTick:minor(5), splitLine:{show:false},
    axisLabel: showLabel ? lbl(cfg.fmt, 10, cfg.size) : {show:false},
    name: showLabel ? name : '', nameLocation:'middle', nameGap: cfg.nameGap,
    nameTextStyle:{fontFamily:FONT, fontSize:23, color:INK}}, cfg.scale);
}
function yAx(grid, pos, cfg, showLabel, name, nameGap, rich){
  const al = showLabel ? lbl(cfg.fmt, 6, cfg.size) : {show:false};
  if (showLabel && cfg.topAlign) al.verticalAlignMaxLabel = 'top';
  return Object.assign({type:'value', gridIndex:grid, position:pos,
    axisLine:{show:false}, axisTick:tick, minorTick:minor(cfg.minor), splitLine:{show:false},
    axisLabel: al,
    name: showLabel ? name : '', nameLocation:'middle', nameGap: nameGap, nameRotate:90,
    nameTextStyle:Object.assign({fontFamily:FONT, fontSize:22, color:INK}, rich||{})}, cfg.scale);
}
const raCfg = {scale:{min:217.5, max:219.0, interval:0.5, inverse:true}, fmt:v=>v.toFixed(1), nameGap:35, size:24};
const decCfg = {scale:{min:32.8, max:34.0, interval:0.2}, fmt:v=>v.toFixed(1), minor:4, size:24, topAlign:true};
const bCfg = {scale:{min:0, max:2, interval:0.5}, fmt:v=>v.toFixed(1), nameGap:32, size:25};
const rCfg = {scale:{min:-6, max:0, interval:1}, fmt:minus, minor:5, size:25};
const subRich = {lineHeight:30, rich:{sub:{fontFamily:FONT, fontSize:14, color:INK, verticalAlign:'bottom', lineHeight:14}}};

const grids = [
  {left:88, top:4, width:471, height:405},
  {left:665, top:4, width:469, height:405},
  {left:89, top:490, width:470, height:395},
  {left:669, top:490, width:465, height:395}
];
const frames = [[88,4,471,405],[665,4,469,405],[89,484,470,406],[669,484,465,406]];

const xAxis = [
  xAx(0,'bottom',raCfg,true,'R.A.'), xAx(0,'top',raCfg,false),
  xAx(1,'bottom',raCfg,true,'R.A.'), xAx(1,'top',raCfg,false),
  xAx(2,'bottom',bCfg,true,'β',5), xAx(2,'top',bCfg,false,'',6),
  xAx(3,'bottom',bCfg,true,'β',5), xAx(3,'top',bCfg,false,'',6)
];
const yAxis = [
  yAx(0,'left',decCfg,true,'Decl.',60), yAx(0,'right',decCfg,false),
  yAx(1,'left',decCfg,true,'Decl.',59), yAx(1,'right',decCfg,false),
  yAx(2,'left',rCfg,true,'pLAE  Mask : Log{sub|10} R{sub|p}(β)',56,subRich), yAx(2,'right',rCfg,false),
  yAx(3,'left',rCfg,true,'zLAE  Mask : Log{sub|10} R{sub|z}(β)',58,subRich), yAx(3,'right',rCfg,false)
];

const crossSym = 'path://M0,5L10,5M5,0L5,10';
const crossStyle = {color:'rgba(0,0,0,0)', borderColor:'#868686', borderWidth:1.6};
const dot = {type:'scatter', symbol:'circle', symbolSize:4, itemStyle:{color:'#000'}, silent:true};
const series = [
  Object.assign({xAxisIndex:0, yAxisIndex:0, data:fieldPtsA}, dot),
  Object.assign({xAxisIndex:0, yAxisIndex:0, data:fieldPtsB}, dot),
  Object.assign({xAxisIndex:2, yAxisIndex:2, data:maskPts, z:3}, dot)
];
maskCircles.forEach(c => series.push({type:'line', xAxisIndex:2, yAxisIndex:2, data:circlePath(c), showSymbol:false, symbol:'none', clip:true, lineStyle:{color:'#8c8c8c', width:1}, silent:true, z:2}));
[[4, crossP, extraP, fitP],[6, crossZ, extraZ, fitZ]].forEach(([ax, cr, ex, fit]) => {
  series.push({type:'line', xAxisIndex:ax, yAxisIndex:ax, data:[[betaSplit,0.09],[betaSplit,-6.08]], clip:false, showSymbol:false, symbol:'none', lineStyle:{color:'#8f8f8f', width:1, type:[10,6]}, silent:true});
  series.push({type:'scatter', xAxisIndex:ax, yAxisIndex:ax, data:zip(betaCross, cr).concat(ex), symbol:crossSym, symbolSize:9, itemStyle:crossStyle, silent:true, z:2});
  series.push({type:'line', xAxisIndex:ax, yAxisIndex:ax, data:zip(betaFit, fit), showSymbol:false, symbol:'none', lineStyle:{color:'#000', width:1}, silent:true, z:3});
});

const txt = (x, y, text, rich, extra) => ({type:'text', x, y, z:10, style:Object.assign({text, fill:INK, font:'25px "Liberation Serif"', verticalAlign:'middle', align:'left', rich}, extra||{})});
const supRich = {a:{fontFamily:FONT, fontSize:25, fill:INK, lineHeight:34}, s:{fontFamily:FONT, fontSize:15, fill:INK, verticalAlign:'top', lineHeight:15}};
const graphic = frames.map(f => ({type:'rect', z:20, shape:{x:f[0]+0.5, y:f[1]+0.5, width:f[2], height:f[3]}, style:{fill:'none', stroke:INK, lineWidth:1.3}, silent:true}));
graphic.push(
  txt(196, 552, '{a|\u22123.20β + 0.066β}{s|2}{a| + 0.057β}{s|3}', supRich),
  txt(773, 552, '{a|\u22123.14β + 0.069β}{s|2}{a| + 0.047β}{s|3}', supRich),
  txt(374, 661, 'R(β) is unstable\n1 < β', null, {lineHeight:27}),
  txt(948, 661, 'R(β) is unstable\n1 < β', null, {lineHeight:27}),
  txt(136, 728, 'R(β) is stable\n0 ≤ β < 1', null, {lineHeight:27}),
  txt(716, 728, 'R(β) is stable\n0 ≤ β < 1', null, {lineHeight:27})
);

chart.setOption({animation:false, backgroundColor:'#fff', grid:grids, xAxis, yAxis, series, graphic});
</script></body></html>
